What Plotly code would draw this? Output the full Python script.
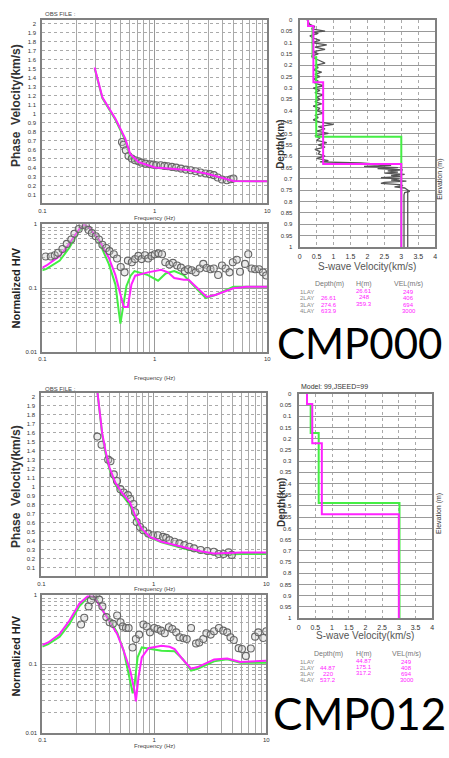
import plotly.graph_objects as go

W, H = 449, 758

# ---------------- data: CMP000 ----------------
pv0_f_mag = [0.292, 0.342, 0.447, 0.547, 0.604, 0.715, 1.0, 1.31, 1.95, 2.92, 3.83, 5.0, 10.0]
pv0_v_mag = [1.51, 1.18, 0.94, 0.72, 0.55, 0.46, 0.40, 0.39, 0.37, 0.33, 0.29, 0.25, 0.245]
pv0_f_grn = [0.292, 0.342, 0.447, 0.547, 0.604, 0.715, 1.0, 1.31, 1.95, 2.92, 3.83, 5.0, 10.0]
pv0_v_grn = [1.50, 1.17, 0.93, 0.70, 0.51, 0.45, 0.40, 0.385, 0.365, 0.325, 0.285, 0.25, 0.245]
pv0_f_obs = [0.511, 0.528, 0.553, 0.584, 0.625, 0.668, 0.715, 0.764, 0.828, 0.904, 0.967, 1.03, 1.13, 1.22,
             1.31, 1.42, 1.55, 1.71, 1.89, 2.09, 2.31, 2.56, 2.83, 3.09, 3.35, 3.63, 3.96, 4.38, 4.74, 5.01]
pv0_v_obs = [0.682, 0.652, 0.59, 0.527, 0.498, 0.479, 0.468, 0.453, 0.442, 0.435, 0.431, 0.424, 0.424, 0.417,
             0.413, 0.406, 0.398, 0.387, 0.376, 0.369, 0.358, 0.343, 0.332, 0.325, 0.314, 0.288, 0.266, 0.258, 0.269, 0.277]

hv0_f_mag = [0.1, 0.109, 0.143, 0.174, 0.213, 0.236, 0.26, 0.32, 0.39, 0.447, 0.495, 0.53, 0.575, 0.62, 0.67,
             0.87, 1.14, 1.31, 1.49, 1.81, 2.0, 2.38, 2.9, 3.5, 5.0, 6.5, 10.0]
hv0_v_mag = [0.21, 0.227, 0.32, 0.50, 0.84, 0.98, 0.89, 0.565, 0.30, 0.16, 0.080, 0.051, 0.051, 0.114, 0.157,
             0.177, 0.194, 0.177, 0.144, 0.136, 0.136, 0.102, 0.073, 0.079, 0.1, 0.105, 0.105]
hv0_f_grn = [0.1, 0.109, 0.143, 0.174, 0.213, 0.236, 0.26, 0.32, 0.39, 0.447, 0.48, 0.495, 0.52, 0.56, 0.61,
             0.66, 0.87, 1.07, 1.25, 1.49, 1.81, 2.0, 2.38, 2.85, 3.5, 5.0, 7.2, 10.0]
hv0_v_grn = [0.19, 0.20, 0.27, 0.43, 0.80, 0.95, 0.89, 0.53, 0.24, 0.114, 0.042, 0.028, 0.048, 0.108, 0.157,
             0.185, 0.16, 0.131, 0.17, 0.185, 0.16, 0.131, 0.096, 0.07, 0.079, 0.105, 0.105, 0.105]
hv0_f_obs = [0.107, 0.119, 0.129, 0.138, 0.151, 0.165, 0.181, 0.193, 0.211, 0.228, 0.244, 0.258, 0.276, 0.299,
             0.319, 0.342, 0.37, 0.396, 0.432, 0.462, 0.498, 0.539, 0.577, 0.625, 0.668, 0.715, 0.764, 0.818,
             0.874, 0.935, 1.0, 1.08, 1.16, 1.24, 1.35, 1.45, 1.58, 1.71, 1.85, 1.98, 2.13, 2.31, 2.51, 2.70,
             2.89, 3.13, 3.35, 3.66, 3.96, 4.27, 4.62, 4.94, 5.36, 5.73, 6.34, 6.78, 7.25, 7.80, 8.46, 9.17, 9.80]
hv0_v_obs = [0.313, 0.313, 0.327, 0.358, 0.411, 0.493, 0.578, 0.71, 0.843, 0.977, 0.944, 0.815, 0.727, 0.649,
             0.578, 0.477, 0.425, 0.38, 0.339, 0.292, 0.215, 0.177, 0.27, 0.255, 0.285, 0.32, 0.285, 0.327,
             0.292, 0.32, 0.339, 0.351, 0.339, 0.255, 0.235, 0.249, 0.227, 0.21, 0.185, 0.198, 0.191, 0.177,
             0.203, 0.24, 0.207, 0.198, 0.203, 0.161, 0.227, 0.203, 0.177, 0.255, 0.279, 0.181, 0.24, 0.339,
             0.203, 0.198, 0.198, 0.177, 0.158]

# layered models (top depth km, velocity km/s)
vs0_top_mag = [0.0, 0.02661, 0.2746, 0.6339, 1.0]
vs0_vel_mag = [0.249, 0.406, 0.694, 3.0, 3.0]
vs0_top_grn = [0.0, 0.02661, 0.165, 0.515, 1.0]
vs0_vel_grn = [0.249, 0.38, 0.49, 3.0, 3.0]
# logged profile (depth km, velocity km/s)
log0_depth = [0.0, 0.01, 0.02, 0.03, 0.04, 0.05, 0.055, 0.06, 0.07, 0.08, 0.09, 0.10, 0.11, 0.12, 0.13, 0.14,
              0.15, 0.16, 0.17, 0.18, 0.19, 0.20, 0.21, 0.22, 0.23, 0.24, 0.25, 0.26, 0.27, 0.28, 0.29, 0.30,
              0.31, 0.32, 0.33, 0.34, 0.35, 0.36, 0.37, 0.38, 0.39, 0.40, 0.41, 0.42, 0.43, 0.44, 0.45, 0.46,
              0.47, 0.48, 0.49, 0.50, 0.51, 0.52, 0.53, 0.54, 0.55, 0.56, 0.57, 0.58, 0.59, 0.60, 0.61, 0.62,
              0.625, 0.63, 0.64, 0.645, 0.65, 0.655, 0.66, 0.665, 0.67, 0.675, 0.68, 0.685, 0.69, 0.695, 0.70,
              0.705, 0.71, 0.715, 0.72, 0.725, 0.73, 0.735, 0.74, 0.75, 0.755, 0.76, 0.77, 1.0]
log0_vel = [0.22, 0.25, 0.30, 0.45, 0.35, 0.75, 0.40, 0.55, 0.30, 0.40, 0.60, 0.35, 0.80, 0.45, 0.75, 0.40,
            0.55, 0.35, 0.45, 0.60, 0.75, 0.45, 0.55, 0.40, 0.65, 0.45, 0.60, 0.40, 0.55, 0.45, 0.70, 0.40,
            0.60, 0.45, 0.70, 0.50, 0.60, 0.45, 0.65, 0.40, 0.60, 0.50, 0.70, 0.45, 0.55, 0.40, 0.60, 1.00,
            0.55, 0.75, 0.50, 0.85, 0.45, 0.60, 0.50, 0.80, 0.55, 0.75, 0.45, 0.60, 0.55, 0.75, 0.50, 0.85,
            0.60, 1.80, 2.70, 1.90, 2.90, 2.30, 3.05, 2.60, 2.90, 2.50, 3.10, 2.70, 3.00, 2.40, 2.95,
            2.70, 3.15, 2.50, 2.40, 2.95, 3.05, 2.80, 3.10, 3.20, 3.25, 3.10, 3.08, 3.08]
log0b_depth = [0.75, 1.0]
log0b_vel = [3.19, 3.19]

# ---------------- data: CMP012 ----------------
pv1_f_mag = [0.312, 0.331, 0.348, 0.373, 0.404, 0.456, 0.521, 0.616, 0.682, 0.78, 0.923, 1.17, 1.53, 2.0,
             2.61, 3.41, 4.47, 6.0, 10.0]
pv1_v_mag = [2.1, 1.81, 1.59, 1.39, 1.21, 1.04, 0.93, 0.82, 0.68, 0.53, 0.44, 0.385, 0.35, 0.31, 0.28,
             0.255, 0.26, 0.265, 0.265]
pv1_f_grn = [0.312, 0.331, 0.348, 0.373, 0.404, 0.456, 0.521, 0.616, 0.682, 0.78, 0.923, 1.17, 1.53, 2.0,
             2.61, 3.41, 4.47, 6.0, 10.0]
pv1_v_grn = [2.1, 1.80, 1.57, 1.36, 1.19, 1.02, 0.91, 0.79, 0.64, 0.51, 0.43, 0.38, 0.34, 0.30, 0.27,
             0.245, 0.245, 0.25, 0.25]
pv1_f_obs = [0.315, 0.343, 0.393, 0.412, 0.441, 0.471, 0.505, 0.54, 0.589, 0.617, 0.659, 0.682, 0.705, 0.755,
             0.807, 0.892, 0.987, 1.09, 1.21, 1.29, 1.38, 1.53, 1.69, 1.87, 2.07, 2.28, 2.61, 2.99, 3.42,
             3.78, 4.18, 4.62, 4.94]
pv1_v_obs = [1.554, 1.463, 1.298, 1.28, 1.134, 1.061, 0.97, 0.933, 0.904, 0.86, 0.805, 0.714, 0.604, 0.549,
             0.513, 0.476, 0.458, 0.458, 0.44, 0.429, 0.403, 0.385, 0.367, 0.348, 0.33, 0.312, 0.294, 0.283,
             0.275, 0.25, 0.25, 0.268, 0.239]

hv1_f_mag = [0.1, 0.113, 0.143, 0.175, 0.214, 0.254, 0.29, 0.333, 0.394, 0.466, 0.533, 0.61, 0.667, 0.685,
             0.723, 0.774, 0.886, 1.16, 1.37, 1.52, 1.80, 2.13, 2.44, 3.42, 4.48, 5.86, 7.69, 10.0]
hv1_v_mag = [0.19, 0.207, 0.275, 0.43, 0.755, 0.97, 0.95, 0.675, 0.43, 0.275, 0.157, 0.081, 0.041, 0.029,
             0.065, 0.126, 0.171, 0.185, 0.179, 0.166, 0.117, 0.086, 0.091, 0.117, 0.121, 0.108, 0.11, 0.112]
hv1_f_grn = [0.1, 0.113, 0.143, 0.175, 0.214, 0.254, 0.30, 0.344, 0.394, 0.466, 0.533, 0.588, 0.642, 0.667,
             0.71, 0.774, 0.94, 1.16, 1.52, 1.80, 2.13, 2.44, 3.42, 4.48, 5.86, 7.69, 10.0]
hv1_v_grn = [0.18, 0.196, 0.251, 0.385, 0.69, 0.925, 0.925, 0.60, 0.456, 0.29, 0.157, 0.072, 0.038, 0.051,
             0.126, 0.175, 0.166, 0.157, 0.154, 0.118, 0.081, 0.086, 0.11, 0.118, 0.105, 0.105, 0.105]
hv1_f_obs = [0.222, 0.237, 0.259, 0.272, 0.285, 0.305, 0.322, 0.344, 0.373, 0.399, 0.427, 0.466, 0.499, 0.523,
             0.559, 0.59, 0.64, 0.685, 0.733, 0.8, 0.857, 0.916, 1.0, 1.07, 1.15, 1.24, 1.35, 1.45, 1.57,
             1.68, 1.82, 1.95, 2.13, 2.36, 2.52, 2.74, 2.92, 3.19, 3.42, 3.78, 4.13, 4.48, 4.79, 5.13, 5.67,
             6.07, 6.58, 7.28, 7.95, 8.5, 9.4, 10.0]
hv1_v_obs = [0.376, 0.471, 0.69, 0.845, 0.967, 1.05, 0.865, 0.69, 0.482, 0.407, 0.385, 0.51, 0.407, 0.352,
             0.336, 0.336, 0.175, 0.232, 0.269, 0.376, 0.352, 0.29, 0.336, 0.325, 0.307, 0.281, 0.344, 0.325,
             0.29, 0.246, 0.238, 0.232, 0.336, 0.2, 0.207, 0.232, 0.281, 0.269, 0.301, 0.336, 0.307, 0.29,
             0.246, 0.224, 0.171, 0.166, 0.132, 0.169, 0.251, 0.29, 0.24, 0.301]

vs1_top_mag = [0.0, 0.04487, 0.220, 0.5372, 1.0]
vs1_vel_mag = [0.249, 0.408, 0.694, 3.0, 3.0]
vs1_top_grn = [0.0, 0.04487, 0.175, 0.487, 1.0]
vs1_vel_grn = [0.249, 0.36, 0.60, 3.02, 3.02]

# table texts
layer_names = ["1LAY", "2LAY", "3LAY", "4LAY"]
tab0_depth = ["", "26.61", "274.6", "633.9"]
tab0_h = ["26.61", "248", "359.3", ""]
tab0_vel = ["249", "406", "694", "3000"]
tab1_depth = ["", "44.87", "220", "537.2"]
tab1_h = ["44.87", "175.1", "317.2", ""]
tab1_vel = ["249", "408", "694", "3000"]

MAG = "#ff22ff"
GRN = "#44ee44"
GRID = "#aaaaaa"
FRAME = "#808080"
TICKF = dict(size=6, color="#333")


def dx(l, r):
    return [l / W, r / W]


def dy(t, b):
    return [1 - b / H, 1 - t / H]


fig = go.Figure()

freq_major = [0.1, 1, 10]
freq_minor = [m * d for d in (0.1, 1) for m in range(2, 10)]


def freq_axis(dom, anchor):
    return dict(type="log", range=[-1, 1], domain=dom, anchor=anchor,
                tickvals=freq_major, ticktext=["0.1", "1", "10"], tickfont=TICKF,
                showgrid=True, gridcolor="#999", gridwidth=1,
                minor=dict(tickvals=freq_minor, showgrid=True, gridcolor=GRID, gridwidth=1),
                showline=True, mirror=True, linecolor=FRAME, linewidth=2,
                ticks="", zeroline=False, ticklabelstandoff=0)


pv_ticks = [round(0.1 * i, 1) for i in range(1, 21)]
pv_text = [("%g" % v) for v in pv_ticks]


def pv_axis(dom, anchor):
    return dict(range=[0, 2.04], domain=dom, anchor=anchor, tickvals=pv_ticks, ticktext=pv_text,
                tickfont=TICKF, showgrid=True, gridcolor=GRID, griddash="dot", gridwidth=1,
                showline=True, mirror=True, linecolor=FRAME, linewidth=2, ticks="", zeroline=False,
                ticklabelstandoff=3)


hv_minor = [m * d for d in (0.01, 0.1) for m in range(2, 10)]


def hv_axis(dom, anchor):
    return dict(type="log", range=[-2, 0], domain=dom, anchor=anchor, tickvals=[0.01, 0.1, 1],
                ticktext=["0.01", "0.1", "1"], tickfont=TICKF, showgrid=True, gridcolor="#999",
                minor=dict(tickvals=hv_minor, showgrid=True, gridcolor=GRID, griddash="dot"),
                showline=True, mirror=True, linecolor=FRAME, linewidth=2, ticks="", zeroline=False,
                ticklabelstandoff=2)


dep_ticks = [round(0.05 * i, 2) for i in range(0, 21)]
dep_text = [("%g" % v) for v in dep_ticks]
vel_ticks = [0.5 * i for i in range(0, 9)]
vel_text = [("%g" % v) for v in vel_ticks]


def dep_axis(dom, anchor):
    return dict(range=[1, 0], domain=dom, anchor=anchor, tickvals=dep_ticks, ticktext=dep_text,
                tickfont=dict(size=6, color="#333"), showgrid=True, gridcolor="#999", gridwidth=1,
                showline=True, mirror=True, linecolor=FRAME, linewidth=2, ticks="", zeroline=False,
                ticklabelstandoff=4)


def vel_axis(dom, anchor):
    return dict(range=[0, 4], domain=dom, anchor=anchor, tickvals=vel_ticks, ticktext=vel_text,
                tickfont=dict(size=7, color="#333"), showgrid=True, gridcolor=GRID, griddash="dot",
                showline=True, mirror=True, linecolor=FRAME, linewidth=2, ticks="", zeroline=False,
                ticklabelstandoff=2)


def line(x, y, color, ax, shape="linear", width=2):
    fig.add_trace(go.Scatter(x=x, y=y, mode="lines", line=dict(color=color, width=width, shape=shape),
                             xaxis="x" + ax, yaxis="y" + ax, hoverinfo="skip"))


def obs(x, y, ax):
    fig.add_trace(go.Scatter(x=x, y=y, mode="markers",
                             marker=dict(symbol="circle", size=7, color="rgba(200,200,200,0.35)",
                                         line=dict(color="#666", width=1.1)),
                             xaxis="x" + ax, yaxis="y" + ax, hoverinfo="skip"))


# panel 1: phase velocity CMP000
line(pv0_f_grn, pv0_v_grn, GRN, "")
obs(pv0_f_obs, pv0_v_obs, "")
line(pv0_f_mag, pv0_v_mag, MAG, "")
# panel 2: H/V CMP000
line(hv0_f_grn, hv0_v_grn, GRN, "2")
line(hv0_f_mag, hv0_v_mag, MAG, "2")
obs(hv0_f_obs, hv0_v_obs, "2")
# panel 3: Vs profile CMP000
line(log0_vel, log0_depth, "#555", "3", width=1.3)
line(log0b_vel, log0b_depth, "#555", "3", width=1.3)
line(vs0_vel_grn, vs0_top_grn, GRN, "3", shape="vh")
line(vs0_vel_mag, vs0_top_mag, MAG, "3", shape="vh")
# panel 4: phase velocity CMP012
line(pv1_f_grn, pv1_v_grn, GRN, "4")
obs(pv1_f_obs, pv1_v_obs, "4")
line(pv1_f_mag, pv1_v_mag, MAG, "4")
# panel 5: H/V CMP012
line(hv1_f_grn, hv1_v_grn, GRN, "5")
line(hv1_f_mag, hv1_v_mag, MAG, "5")
obs(hv1_f_obs, hv1_v_obs, "5")
# panel 6: Vs profile CMP012
line(vs1_vel_grn, vs1_top_grn, GRN, "6", shape="vh")
line(vs1_vel_mag, vs1_top_mag, MAG, "6", shape="vh")

fig.update_layout(
    width=W, height=H, margin=dict(l=0, r=0, t=0, b=0), showlegend=False,
    paper_bgcolor="white", plot_bgcolor="white",
    font=dict(family="Liberation Sans, Arial, sans-serif"),
    xaxis=freq_axis(dx(39, 268), "y"), yaxis=pv_axis(dy(17, 202), "x"),
    xaxis2=freq_axis(dx(39, 268), "y2"), yaxis2=hv_axis(dy(223, 352), "x2"),
    xaxis3=vel_axis(dx(301, 439), "y3"), yaxis3=dep_axis(dy(17, 246), "x3"),
    xaxis4=freq_axis(dx(38, 267), "y4"), yaxis4=pv_axis(dy(393, 578), "x4"),
    xaxis5=freq_axis(dx(39, 267), "y5"), yaxis5=hv_axis(dy(597, 736), "x5"),
    xaxis6=vel_axis(dx(300, 436), "y6"), yaxis6=dep_axis(dy(394, 620), "x6"),
)


def txt(x, y, s, size, color="#222", angle=0, bold=False, family=None, xanchor="center"):
    t = "<b>%s</b>" % s if bold else s
    d = dict(x=x / W, y=1 - y / H, xref="paper", yref="paper", text=t, showarrow=False,
             textangle=angle, font=dict(size=size, color=color), xanchor=xanchor, yanchor="middle")
    if family:
        d["font"]["family"] = family
    fig.add_annotation(**d)


# axis titles and labels
txt(40, 11, "OBS FILE :", 6, "#444", xanchor="left")
txt(40, 389, "OBS FILE :", 6, "#444", xanchor="left")
txt(153, 217, "Frequency (Hz)", 6, "#444")
txt(153, 378, "Frequency (Hz)", 6, "#444")
txt(153, 591, "Frequency (Hz)", 6, "#444")
txt(153, 749, "Frequency (Hz)", 6, "#444")
txt(12, 103, "Phase  Velocity(km/s)", 12, "#333", angle=-90, bold=True)
txt(12, 487, "Phase  Velocity(km/s)", 12, "#333", angle=-90, bold=True)
txt(12, 287, "Normalized H/V", 11, "#222", angle=-90, bold=True)
txt(12, 658, "Normalized H/V", 11, "#222", angle=-90, bold=True)
txt(282, 142, "Depth(km)", 10, "#333", angle=-90, bold=True)
txt(282, 503, "Depth(km)", 10, "#333", angle=-90, bold=True)
txt(370, 266, "S-wave Velocity(km/s)", 10, "#555")
txt(368, 638, "S-wave Velocity(km/s)", 10, "#555")
txt(443, 178, "Elevation (m)", 7, "#333", angle=-90)
txt(443, 515, "Elevation (m)", 7, "#333", angle=-90)
txt(300, 387, "Model: 99,JSEED=99", 7, "#333", xanchor="left")


# tables
def table(y0, step, hx, names, dep, hh, vel):
    txt(hx[0], y0, "Depth(m)", 7, "#777")
    txt(hx[1], y0, "H(m)", 7, "#777")
    txt(hx[2], y0, "VEL(m/s)", 7, "#777")
    for i in range(4):
        yy = y0 + 8 + i * step
        txt(309, yy, names[i], 6, "#888")
        if dep[i]:
            txt(hx[0], yy, dep[i], 6, MAG)
        if hh[i]:
            txt(hx[1], yy - 1, hh[i], 6, MAG)
        txt(hx[2], yy, vel[i], 6, MAG)


table(283, 6.5, (331, 367, 412), layer_names, tab0_depth, tab0_h, tab0_vel)
table(656, 6.3, (330, 367, 410), layer_names, tab1_depth, tab1_h, tab1_vel)

txt(362, 343, "CMP000", 42, "black", family="Lato")
txt(362, 716, "CMP012", 44, "black", family="Lato")

fig.write_html("out.html", config={"displayModeBar": False},
               post_script="document.body.style.margin='0px';")
